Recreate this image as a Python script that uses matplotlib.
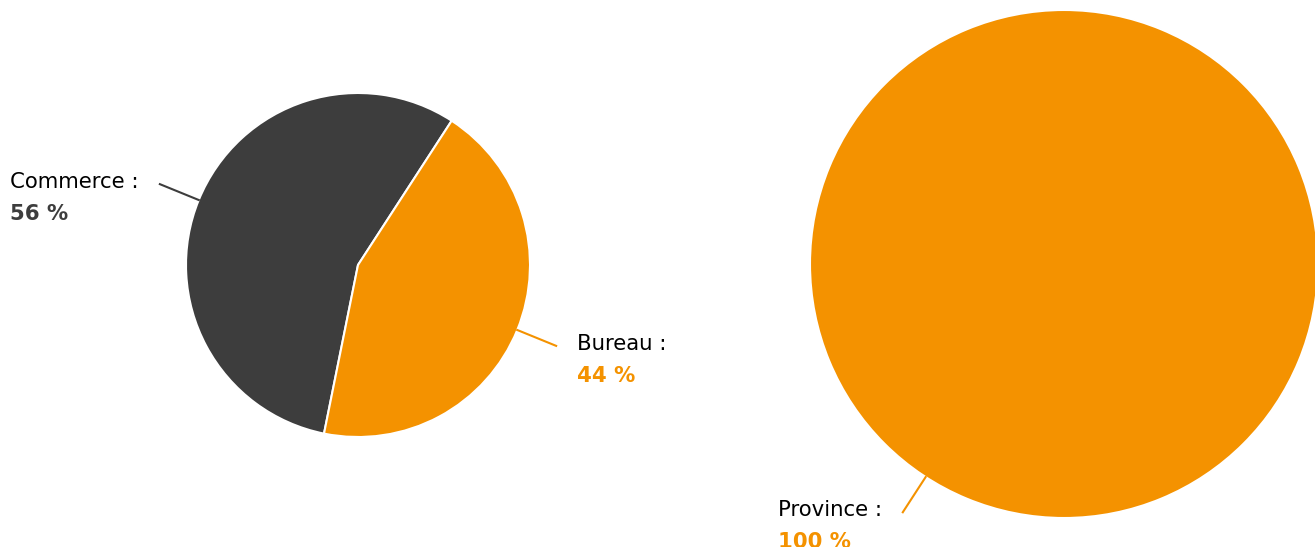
import numpy as np
import matplotlib.pyplot as plt
from matplotlib.transforms import offset_copy

plt.rcParams["font.family"] = ["DejaVu Sans"]

# répartition par usage
usage_labels = ["Commerce", "Bureau"]
usage_values = [56, 44]
usage_colors = ["#3d3d3d", "#f49200"]

# répartition géographique
zone_labels = ["Province"]
zone_values = [100]
zone_colors = ["#f49200"]

W, H = 1315, 547
fig = plt.figure(figsize=(W / 100, H / 100), dpi=100)

pending = []


def add_pie(cx, cy, r, labels, values, colors):
    ax = fig.add_axes([(cx - r) / W, (H - cy - r) / H, 2 * r / W, 2 * r / H])
    wedges, _ = ax.pie(values, colors=colors, startangle=57, counterclock=True,
                       radius=1, wedgeprops=dict(edgecolor="white", linewidth=1.5))
    ax.set_xlim(-1, 1)
    ax.set_ylim(-1, 1)
    ax.set_aspect("equal")
    ax.axis("off")
    for w, lab, val, col in zip(wedges, labels, values, colors):
        ang = np.deg2rad((w.theta1 + w.theta2) / 2)
        c, s = np.cos(ang), np.sin(ang)
        r2 = 1 + 42 / r
        ax.plot([c, r2 * c], [s, r2 * s], color=col, lw=1.5, clip_on=False)
        side = 1 if c >= 0 else -1
        tr = offset_copy(ax.transData, fig=fig, x=21 * side, y=2, units="dots")
        t = ax.text(r2 * c, r2 * s, lab + " :", transform=tr,
                    ha="left" if side > 0 else "right", va="center",
                    fontsize=15.3, color="black")
        pending.append((ax, t, (r2 * c, r2 * s), f"{val} %", col))


add_pie(358, 265, 172, usage_labels, usage_values, usage_colors)
add_pie(1064, 264, 254, zone_labels, zone_values, zone_colors)

fig.canvas.draw()
for ax, t, xy, txt, col in pending:
    bb = t.get_window_extent()
    yd = ax.transData.transform(xy)[1] + 2 - 32
    fig.text(bb.x0 / W, yd / H, txt, ha="left", va="center", fontsize=15.3,
             fontweight="bold", color=col)

fig.savefig("out.png", dpi=100)
